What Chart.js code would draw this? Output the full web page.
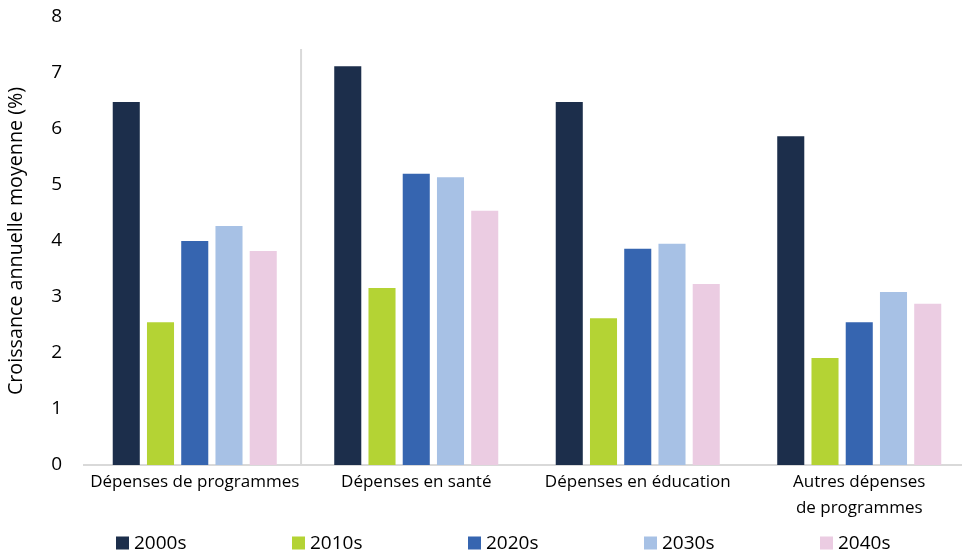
<!DOCTYPE html>
<html>
<head>
<meta charset="utf-8">
<script src="https://cdn.jsdelivr.net/npm/chart.js@4"></script>
<style>
html,body{margin:0;padding:0;background:#fff;overflow:hidden;}
#wrap{position:absolute;left:0;top:0;width:972px;height:554px;}
</style>
</head>
<body>
<div id="wrap"><canvas id="c" width="972" height="554"></canvas></div>
<script>
const categories = ["Dépenses de programmes", "Dépenses en santé", "Dépenses en éducation", ["Autres dépenses", "de programmes"]];
const seriesNames = ["2000s", "2010s", "2020s", "2030s", "2040s"];
const s2000 = [6.48, 7.12, 6.48, 5.87];
const s2010 = [2.55, 3.16, 2.62, 1.91];
const s2020 = [4.00, 5.20, 3.86, 2.55];
const s2030 = [4.27, 5.14, 3.95, 3.09];
const s2040 = [3.82, 4.54, 3.23, 2.88];
const yTicks = [0, 1, 2, 3, 4, 5, 6, 7, 8];
const colors = ["#1c2e4b", "#b4d334", "#3665b0", "#a7c1e5", "#ebcce2"];

const FONT = "'Open Sans', 'Noto Sans', sans-serif";

const separator = {
  id: 'separator',
  afterDatasetsDraw(chart) {
    const x = chart.scales.x, y = chart.scales.y, ctx = chart.ctx;
    const px = x.getPixelForValue(0.48);
    ctx.save();
    ctx.strokeStyle = '#d9d9d9';
    ctx.lineWidth = 2;
    ctx.beginPath();
    ctx.moveTo(px, y.getPixelForValue(7.43));
    ctx.lineTo(px, y.getPixelForValue(0));
    ctx.stroke();
    ctx.restore();
  }
};

const customLegend = {
  id: 'customLegend',
  afterDraw(chart) {
    const ctx = chart.ctx;
    const startX = 116, step = 176, cy = 543, box = 13;
    ctx.save();
    ctx.font = "19px " + FONT;
    ctx.textBaseline = 'middle';
    ctx.textAlign = 'left';
    chart.data.datasets.forEach((ds, i) => {
      const x0 = startX + i * step;
      ctx.fillStyle = ds.backgroundColor;
      ctx.fillRect(x0, cy - box / 2, box, box);
      ctx.fillStyle = '#000';
      ctx.fillText(ds.label, x0 + box + 5, cy + 1);
    });
    ctx.restore();
  }
};

const data = {
  labels: categories,
  datasets: [s2000, s2010, s2020, s2030, s2040].map((d, i) => ({
    label: seriesNames[i],
    data: d,
    backgroundColor: colors[i],
    categoryPercentage: 0.773,
    barPercentage: 0.79
  }))
};

new Chart(document.getElementById('c'), {
  type: 'bar',
  data,
  plugins: [separator, customLegend],
  options: {
    responsive: false,
    animation: false,
    layout: { padding: { top: 17, right: 2, left: 0, bottom: 0 } },
    plugins: {
      legend: { display: false },
      tooltip: { enabled: false }
    },
    scales: {
      x: {
        grid: { display: false, drawTicks: false },
        border: { display: true, color: '#d9d9d9', width: 2 },
        ticks: {
          color: '#000',
          font: { family: FONT, size: 17, lineHeight: 1.55 },
          maxRotation: 0,
          autoSkip: false,
          padding: 4
        },
        afterFit(s) { s.height = 89; s.paddingLeft = 0; s.paddingRight = 0; }
      },
      y: {
        min: 0, max: 8,
        afterBuildTicks(s) { s.ticks = yTicks.map(v => ({ value: v })); },
        grid: { display: false, drawTicks: false },
        border: { display: false },
        ticks: {
          color: '#000',
          font: { family: FONT, size: 19 },
          padding: 22
        },
        title: {
          display: true,
          text: 'Croissance annuelle moyenne (%)',
          color: '#000',
          font: { family: FONT, size: 19.7 },
          padding: { top: 5, bottom: 0 }
        },
        afterFit(s) { s.width = 84; s.paddingTop = 0; s.paddingBottom = 0; }
      }
    }
  }
});
</script>
</body>
</html>
